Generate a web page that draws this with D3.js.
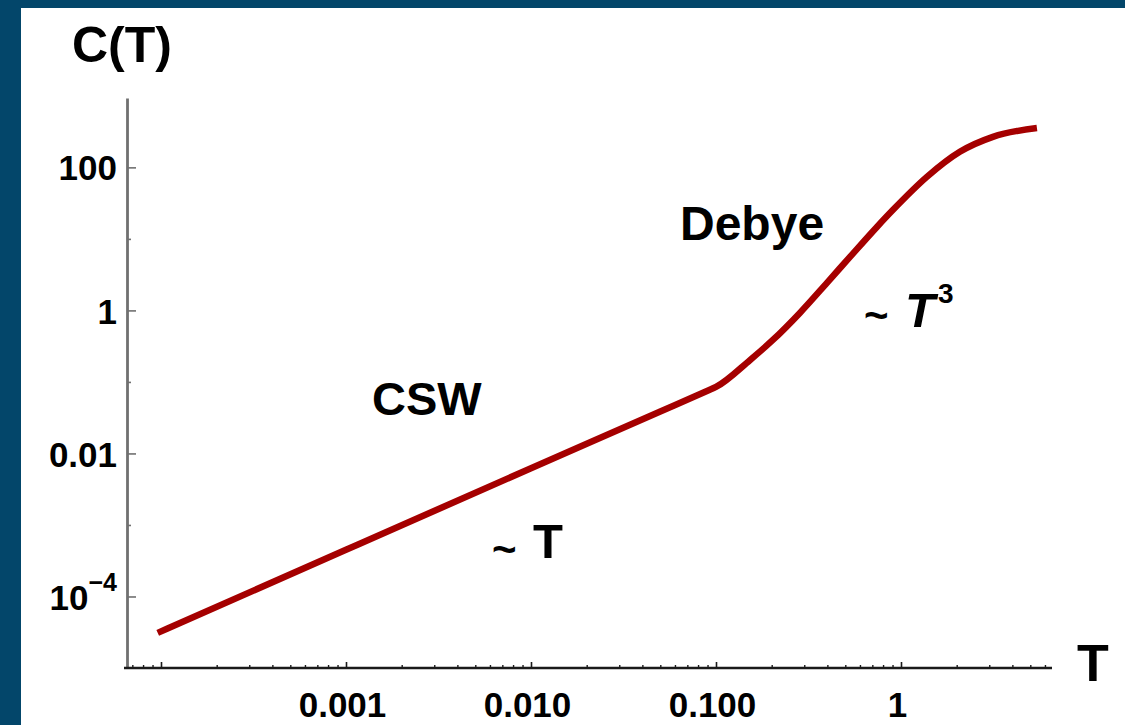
<!DOCTYPE html>
<html>
<head>
<meta charset="utf-8">
<script src="https://cdn.jsdelivr.net/npm/d3@7"></script>
<style>
  html, body { margin: 0; padding: 0; background: #ffffff; }
  svg { display: block; }
  text { font-family: "Liberation Sans", Arial, Helvetica, sans-serif; font-weight: bold; fill: #000; }
</style>
</head>
<body>
<svg id="chart" width="1125" height="725"></svg>
<script>
// Heat capacity C(T): linear (CSW) regime at low T, Debye T^3 rise, then saturation
const temperature = [9.6e-5, 1e-3, 1e-2, 0.05, 0.09, 0.1, 0.153, 0.203, 0.284, 0.398, 0.530, 0.741, 0.906, 1.38, 2.08, 3.14, 5.43];
const heatCapacity = [3.1e-5, 4.5e-4, 6.2e-3, 0.0385, 0.0752, 0.085, 0.203, 0.386, 0.923, 2.43, 5.60, 14.7, 25.5, 73.6, 165, 267, 356];

// Axis extents and ticks
const xDomain = [6.55e-5, 6.55];
const yDomain = [1e-5, 933];
const xMajorTicks = [1e-4, 1e-3, 1e-2, 1e-1, 1];
const xTickLabels = ["", "0.001", "0.010", "0.100", "1"];
const yMajorTicks = [1e2, 1, 1e-2, 1e-4];
const yTickLabels = ["100", "1", "0.01", "10^-4"];
const yMinorTicks = [10, 0.1, 1e-3];

const svg = d3.select("#chart");
const W = 1125, H = 725;

// page background and dark blue frame on the top and left edges
svg.append("rect").attr("width", W).attr("height", H).attr("fill", "#ffffff");
svg.append("rect").attr("x", 0).attr("y", 0).attr("width", W).attr("height", 8).attr("fill", "#03466a");
svg.append("rect").attr("x", 0).attr("y", 0).attr("width", 21).attr("height", H).attr("fill", "#03466a");

const x = d3.scaleLog().domain(xDomain).range([127, 1052]);
const y = d3.scaleLog().domain(yDomain).range([668, 98]);

// minor x ticks: 2..9 within every decade that falls inside the axis
const xMinorTicks = [];
for (let e = -5; e <= 0; e++) {
  for (let m = 2; m <= 9; m++) {
    const v = m * Math.pow(10, e);
    if (v >= xDomain[0] && v <= xDomain[1]) xMinorTicks.push(v);
  }
}

// ---- y axis (grey) ----
const yAxisG = svg.append("g").attr("transform", `translate(${x.range()[0]},0)`);
yAxisG.call(
  d3.axisLeft(y)
    .tickValues(yMajorTicks)
    .tickSizeInner(-9)
    .tickSizeOuter(0)
    .tickPadding(10)
    .tickFormat((d, i) => yTickLabels[i])
);
yAxisG.attr("font-family", null).attr("font-size", null);
yAxisG.select(".domain").attr("stroke", "#707070").attr("stroke-width", 2.8);
yAxisG.selectAll(".tick line").attr("stroke", "#707070").attr("stroke-width", 1.6);
yAxisG.selectAll(".tick text")
  .attr("font-size", 35).attr("dy", "0.36em")
  .each(function (d, i) {
    const label = yTickLabels[i];
    if (label.includes("^")) {
      const [base, exp] = label.split("^");
      const t = d3.select(this).text(null);
      t.append("tspan").text(base);
      t.append("tspan").attr("font-size", 25).attr("dy", "-0.75em").text(exp.replace("-", "\u2212"));
    }
  });

const yMinorG = svg.append("g").attr("transform", `translate(${x.range()[0]},0)`);
yMinorG.call(d3.axisLeft(y).tickValues(yMinorTicks).tickSizeInner(-4).tickSizeOuter(0).tickFormat(""));
yMinorG.select(".domain").remove();
yMinorG.selectAll(".tick line").attr("stroke", "#707070").attr("stroke-width", 1.6);

// ---- x axis (black) ----
const xAxisG = svg.append("g").attr("transform", `translate(0,${y.range()[0]})`);
xAxisG.call(
  d3.axisBottom(x)
    .tickValues(xMajorTicks)
    .tickSizeInner(-6)
    .tickSizeOuter(0)
    .tickPadding(24)
    .tickFormat((d, i) => xTickLabels[i])
);
xAxisG.attr("font-family", null).attr("font-size", null);
xAxisG.select(".domain").attr("stroke", "#1a1a1a").attr("stroke-width", 2.6)
  .attr("d", `M${x.range()[0] - 3},0H${x.range()[1]}`);
xAxisG.selectAll(".tick line").attr("stroke", "#1a1a1a").attr("stroke-width", 1.6);
xAxisG.selectAll(".tick text").attr("font-size", 35).attr("dx", -4);

const xMinorG = svg.append("g").attr("transform", `translate(0,${y.range()[0]})`);
xMinorG.call(d3.axisBottom(x).tickValues(xMinorTicks).tickSizeInner(-3).tickSizeOuter(0).tickFormat(""));
xMinorG.select(".domain").remove();
xMinorG.selectAll(".tick line").attr("stroke", "#1a1a1a").attr("stroke-width", 1.4);

// ---- curve ----
const pts = temperature.map((t, i) => [t, heatCapacity[i]]);
svg.append("path")
  .datum(pts)
  .attr("fill", "none")
  .attr("stroke", "#a50000")
  .attr("stroke-width", 6.5)
  .attr("stroke-linejoin", "round")
  .attr("d", d3.line().x(d => x(d[0])).y(d => y(d[1])).curve(d3.curveMonotoneX));

// ---- axis titles ----
svg.append("text").attr("x", 72).attr("y", 62).attr("font-size", 50).text("C(T)");
svg.append("text").attr("x", 1077).attr("y", 681).attr("font-size", 52).text("T");

// ---- region annotations ----
svg.append("text").attr("x", 372).attr("y", 415).attr("font-size", 47).text("CSW");
svg.append("text").attr("x", 680).attr("y", 240).attr("font-size", 48).text("Debye");

svg.append("text").attr("x", 492).attr("y", 564).attr("font-size", 42).text("~");
svg.append("text").attr("x", 533).attr("y", 558).attr("font-size", 49).text("T");

svg.append("text").attr("x", 864).attr("y", 330).attr("font-size", 42).text("~");
svg.append("text").attr("x", 905).attr("y", 327).attr("font-size", 49).attr("font-style", "italic").text("T");
svg.append("text").attr("x", 938).attr("y", 303).attr("font-size", 28).text("3");
</script>
</body>
</html>
